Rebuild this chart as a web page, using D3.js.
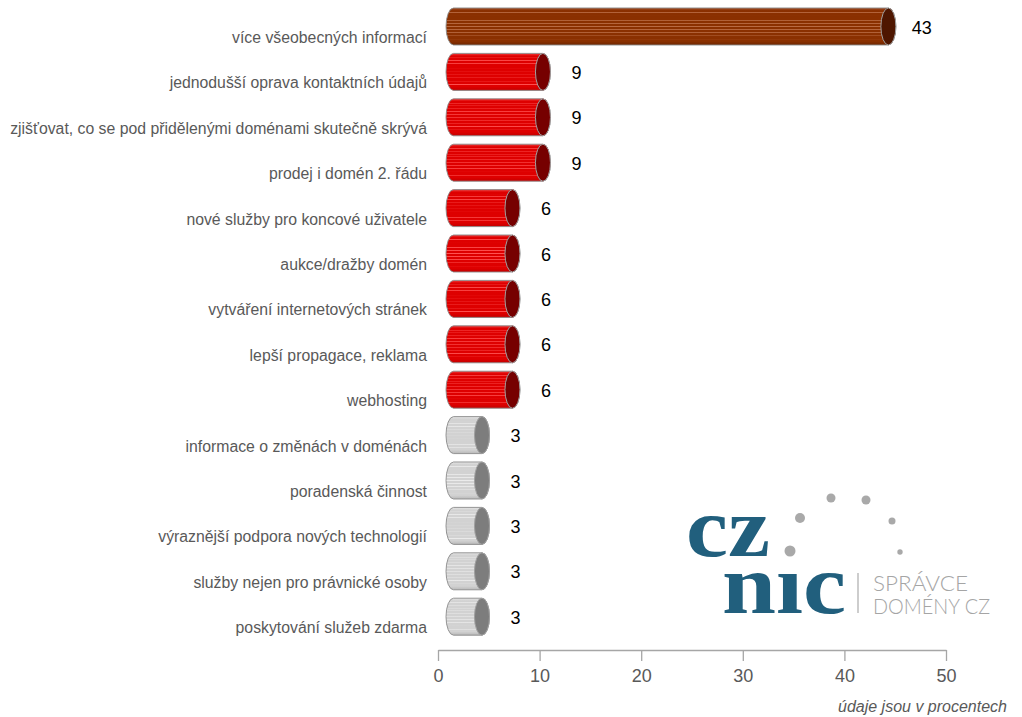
<!DOCTYPE html>
<html><head><meta charset="utf-8">
<script src="https://cdn.jsdelivr.net/npm/d3@7/dist/d3.min.js"></script>
<style>
html,body{margin:0;padding:0;background:#fff;}
svg{display:block;font-family:"Liberation Sans",Arial,sans-serif;}
</style></head>
<body>
<svg id="chart" width="1022" height="717"></svg>
<script>
// ---- data ----
const categories = [
  "více všeobecných informací",
  "jednodušší oprava kontaktních údajů",
  "zjišťovat, co se pod přidělenými doménami skutečně skrývá",
  "prodej i domén 2. řádu",
  "nové služby pro koncové uživatele",
  "aukce/dražby domén",
  "vytváření internetových stránek",
  "lepší propagace, reklama",
  "webhosting",
  "informace o změnách v doménách",
  "poradenská činnost",
  "výraznější podpora nových technologií",
  "služby nejen pro právnické osoby",
  "poskytování služeb zdarma"
];
const values = [43, 9, 9, 9, 6, 6, 6, 6, 6, 3, 3, 3, 3, 3];
const xTicks = [0, 10, 20, 30, 40, 50];
const footnote = "údaje jsou v procentech";

// ---- layout ----
const svg = d3.select("#chart");
const x = d3.scaleLinear().domain([0, 50]).range([438, 946]);
const y = d3.scaleBand().domain(categories).range([3.8, 639.4]).paddingInner(0.185).paddingOuter(0.0925);

// ---- gradients ----
const defs = svg.append("defs");
const palettes = {
  brown: {base:"#8a3000", light:"#b86a42", top:"#a5502a", bottom:"#6e2600", cap:"#4e1600"},
  red:   {base:"#de0000", light:"#ff5252", top:"#f04040", bottom:"#c20000", cap:"#760000"},
  gray:  {base:"#d2d2d2", light:"#ebebeb", top:"#e6e6e6", bottom:"#b8b8b8", cap:"#7d7d7d"}
};
const stripes = [0.12, 0.19, 0.27, 0.34, 0.42, 0.5, 0.58, 0.66, 0.75, 0.84];
Object.entries(palettes).forEach(([k, p]) => {
  const g = defs.append("linearGradient").attr("id", "g-" + k)
    .attr("x1", 0).attr("y1", 0).attr("x2", 0).attr("y2", 1);
  g.append("stop").attr("offset", 0).attr("stop-color", p.top);
  g.append("stop").attr("offset", 0.07).attr("stop-color", p.base);
  stripes.forEach(s => {
    g.append("stop").attr("offset", s - 0.013).attr("stop-color", p.base);
    g.append("stop").attr("offset", s).attr("stop-color", p.light);
    g.append("stop").attr("offset", s + 0.013).attr("stop-color", p.base);
  });
  g.append("stop").attr("offset", 0.9).attr("stop-color", p.base);
  g.append("stop").attr("offset", 1).attr("stop-color", p.bottom);
});
const tier = v => v >= 20 ? "brown" : (v >= 5 ? "red" : "gray");

// ---- cylinders ----
const rx = 7.5;
const bars = svg.append("g").selectAll("g").data(categories).join("g");
bars.each(function(c, i) {
  const v = values[i];
  const cy = y(c) + y.bandwidth() / 2;
  const ry = y.bandwidth() / 2;
  const xl = x(0) + 15.5;
  const xr = x(v) + 13.5;
  const p = palettes[tier(v)];
  const g = d3.select(this);
  g.append("path")
    .attr("d", `M${xl},${cy-ry} L${xr},${cy-ry} A${rx},${ry} 0 0 1 ${xr},${cy+ry} L${xl},${cy+ry} A${rx},${ry} 0 0 1 ${xl},${cy-ry} Z`)
    .attr("fill", `url(#g-${tier(v)})`)
    .attr("stroke", "#8a8a8a").attr("stroke-width", 0.9);
  g.append("ellipse").attr("cx", xr).attr("cy", cy).attr("rx", rx).attr("ry", ry)
    .attr("fill", p.cap).attr("stroke", "#a0a0a0").attr("stroke-width", 1);
  g.append("text").attr("x", xr + rx + 26).attr("y", cy + 1)
    .attr("text-anchor", "middle").attr("dominant-baseline", "central")
    .attr("font-size", 18).attr("fill", "#000").text(v);
});

// ---- category labels ----
svg.append("g").selectAll("text").data(categories).join("text")
  .attr("x", 427).attr("y", d => y(d) + y.bandwidth() / 2 + 11)
  .attr("text-anchor", "end").attr("dominant-baseline", "central")
  .attr("font-size", 15.8).attr("fill", "#595959").text(d => d);

// ---- axis ----
const axis = svg.append("g").attr("transform", "translate(0,650)")
  .call(d3.axisBottom(x).tickValues(xTicks).tickSize(11).tickSizeOuter(0).tickPadding(8));
axis.select(".domain").attr("stroke", "#a6a6a6").attr("stroke-width", 1.3);
axis.selectAll(".tick line").attr("stroke", "#a6a6a6").attr("stroke-width", 1.3);
axis.selectAll(".tick text").attr("font-size", 18).attr("fill", "#595959")
  .attr("font-family", "Liberation Sans, Arial, sans-serif");

svg.append("text").attr("x", 1007).attr("y", 706)
  .attr("text-anchor", "end").attr("dominant-baseline", "central")
  .attr("font-size", 16).attr("font-style", "italic").attr("fill", "#595959").text(footnote);

// ---- logo ----
const logo = svg.append("g");
logo.append("text").attr("x", 686).attr("y", 556)
  .attr("font-family", "Liberation Serif, serif").attr("font-weight", "bold")
  .attr("font-size", 84).attr("fill", "#215f7d")
  .attr("textLength", 84).attr("lengthAdjust", "spacingAndGlyphs").text("cz");
logo.append("text").attr("x", 722).attr("y", 613)
  .attr("font-family", "Liberation Serif, serif").attr("font-weight", "bold")
  .attr("font-size", 84).attr("fill", "#215f7d")
  .attr("textLength", 124).attr("lengthAdjust", "spacingAndGlyphs").text("n\u0131c");
[[790,551,5.5],[800,518,5],[831,498,4.5],[866,500,4.5],[892,521,3.5],[900,552,2.7]].forEach(d => {
  logo.append("circle").attr("cx", d[0]).attr("cy", d[1]).attr("r", d[2]).attr("fill", "#a9a9a9");
});
logo.append("line").attr("x1", 858).attr("x2", 858).attr("y1", 573).attr("y2", 613)
  .attr("stroke", "#bdbdbd").attr("stroke-width", 1.5);
logo.append("text").attr("x", 873).attr("y", 591)
  .attr("font-family", "Lato, Open Sans, sans-serif").attr("font-weight", 300)
  .attr("font-size", 21).attr("fill", "#a5a5a5")
  .attr("textLength", 95).attr("lengthAdjust", "spacingAndGlyphs").text("SPRÁVCE");
logo.append("text").attr("x", 873).attr("y", 614)
  .attr("font-family", "Lato, Open Sans, sans-serif").attr("font-weight", 300)
  .attr("font-size", 21).attr("fill", "#a5a5a5")
  .attr("textLength", 117).attr("lengthAdjust", "spacingAndGlyphs").text("DOMÉNY CZ");
</script>
</body></html>
